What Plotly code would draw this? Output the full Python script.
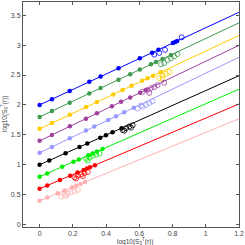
import plotly.graph_objects as go

names = ["blue", "green", "gold", "purple", "lightblue", "black", "brightgreen", "red", "pink"]
colors = ["#0000ff", "#3f9a50", "#ffcc00", "#a040a0", "#9999ff", "#000000", "#00ee00", "#ff0000", "#ffb0b0"]

# fitted lines: value at x=0 and at x=1.2
line_x = [0.0, 1.2]
line_y = [
    [2.0, 3.548], [1.8, 3.372], [1.6, 3.16], [1.4, 2.996], [1.2, 2.796],
    [1.0, 2.488], [0.8, 2.264], [0.6, 2.016], [0.4, 1.768],
]

# filled points
fx = [
    [0, 0.074, 0.181, 0.299, 0.367, 0.475, 0.603, 0.677, 0.715, 0.802, 0.816, 0.828],
    [0, 0.074, 0.181, 0.299, 0.367, 0.475, 0.545, 0.603, 0.67, 0.70, 0.74, 0.79],
    [0, 0.074, 0.182, 0.28, 0.345, 0.443, 0.499, 0.553, 0.617, 0.649, 0.683, 0.729],
    [0, 0.074, 0.182, 0.279, 0.345, 0.435, 0.49, 0.545, 0.605, 0.64],
    [0, 0.074, 0.182, 0.279, 0.329, 0.413, 0.46, 0.509, 0.567],
    [0, 0.058, 0.156, 0.24, 0.287, 0.365, 0.399, 0.439, 0.493],
    [0, 0.046, 0.136, 0.204, 0.236, 0.293, 0.319, 0.345, 0.379],
    [0, 0.046, 0.122, 0.184, 0.228, 0.265, 0.285, 0.303, 0.333],
    [0, 0.046, 0.108, 0.15, 0.196, 0.22, 0.246, 0.273],
]
fy = [
    [2.0, 2.095, 2.233, 2.386, 2.473, 2.613, 2.778, 2.873, 2.922, 3.035, 3.053, 3.068],
    [1.8, 1.897, 2.037, 2.192, 2.281, 2.422, 2.514, 2.590, 2.678, 2.717, 2.769, 2.835],
    [1.6, 1.696, 1.837, 1.964, 2.049, 2.176, 2.249, 2.319, 2.402, 2.444, 2.488, 2.548],
    [1.4, 1.498, 1.642, 1.771, 1.859, 1.979, 2.052, 2.125, 2.205, 2.251],
    [1.2, 1.298, 1.442, 1.571, 1.638, 1.749, 1.812, 1.877, 1.954],
    [1.0, 1.072, 1.193, 1.298, 1.356, 1.453, 1.495, 1.544, 1.611],
    [0.8, 0.856, 0.966, 1.049, 1.088, 1.157, 1.189, 1.221, 1.262],
    [0.6, 0.654, 0.744, 0.817, 0.869, 0.913, 0.936, 0.958, 0.993],
    [0.4, 0.452, 0.523, 0.571, 0.623, 0.651, 0.680, 0.711],
]

# open points
ox = [
    [0.69, 0.72, 0.755, 0.855],
    [0.73, 0.75, 0.77, 0.79, 0.81, 0.83],
    [0.72, 0.74, 0.76, 0.78, 0.74],
    [0.62, 0.65, 0.67, 0.69, 0.71, 0.75, 0.66],
    [0.59, 0.62, 0.64, 0.66, 0.68, 0.61],
    [0.50, 0.52, 0.54, 0.56, 0.51, 0.55],
    [0.28, 0.30, 0.32, 0.34, 0.36, 0.29],
    [0.21, 0.23, 0.25, 0.27, 0.29, 0.22, 0.26],
    [0.13, 0.15, 0.17, 0.19, 0.21, 0.16, 0.23],
]
oy = [
    [2.84, 2.87, 2.92, 3.13],
    [2.68, 2.70, 2.75, 2.78, 2.81, 2.85],
    [2.45, 2.49, 2.52, 2.55, 2.44],
    [2.22, 2.25, 2.28, 2.30, 2.33, 2.37, 2.20],
    [1.94, 1.97, 2.00, 2.03, 2.06, 1.99],
    [1.58, 1.61, 1.64, 1.66, 1.57, 1.62],
    [1.10, 1.12, 1.15, 1.17, 1.19, 1.07],
    [0.79, 0.82, 0.84, 0.86, 0.88, 0.77, 0.81],
    [0.47, 0.50, 0.52, 0.54, 0.56, 0.48, 0.58],
]

x_ticks = [0, 0.2, 0.4, 0.6, 0.8, 1, 1.2]
x_tick_text = ["0", "0.2", "0.4", "0.6", "0.8", "1", "1.2"]
y_ticks = [0, 0.5, 1, 1.5, 2, 2.5, 3, 3.5]
y_tick_text = ["0", "0.5", "1", "1.5", "2", "2.5", "3", "3.5"]

fig = go.Figure()
for i, c in enumerate(colors):
    fig.add_trace(go.Scatter(x=line_x, y=line_y[i], mode="lines",
                             line=dict(color=c, width=1), showlegend=False, hoverinfo="skip"))
    fig.add_trace(go.Scatter(x=ox[i], y=oy[i], mode="markers",
                             marker=dict(symbol="circle-open", color=c, size=5, line=dict(width=0.8)),
                             showlegend=False))
    fig.add_trace(go.Scatter(x=fx[i], y=fy[i], mode="markers",
                             marker=dict(symbol="circle", color=c, size=4.5),
                             showlegend=False))

axis_common = dict(showgrid=False, zeroline=False, showline=True, mirror="ticks",
                   linecolor="#555555", linewidth=1, ticks="inside", ticklen=3,
                   tickcolor="#555555", tickfont=dict(size=7, color="#444444"),
                   automargin=False, ticklabeloverflow="allow")

fig.update_layout(
    width=245, height=245,
    margin=dict(l=23, r=6, t=2, b=18),
    paper_bgcolor="white", plot_bgcolor="white",
    font=dict(family="Liberation Sans, Arial, sans-serif", size=7, color="#444444"),
    xaxis=dict(range=[-0.1, 1.2], tickvals=x_ticks, ticktext=x_tick_text, **axis_common),
    yaxis=dict(range=[-0.04, 3.72], tickvals=y_ticks, ticktext=y_tick_text, **axis_common),
    annotations=[
        dict(text="log10(S<sub>3</sub><sup>T</sup>(r))", xref="paper", yref="paper",
             x=0.52, y=0, yshift=-8, xanchor="center", yanchor="top", showarrow=False,
             font=dict(size=6.5, color="#444444")),
        dict(text="log10(S<sub>6</sub><sup>T</sup>(r))", xref="paper", yref="paper",
             x=0, xshift=-12, y=0.5, xanchor="right", yanchor="middle", textangle=-90,
             showarrow=False, font=dict(size=6.5, color="#444444")),
    ],
)

fig.write_html("out.html", config={"displayModeBar": False},
               post_script="document.body.style.margin='0';document.body.style.padding='0';")
